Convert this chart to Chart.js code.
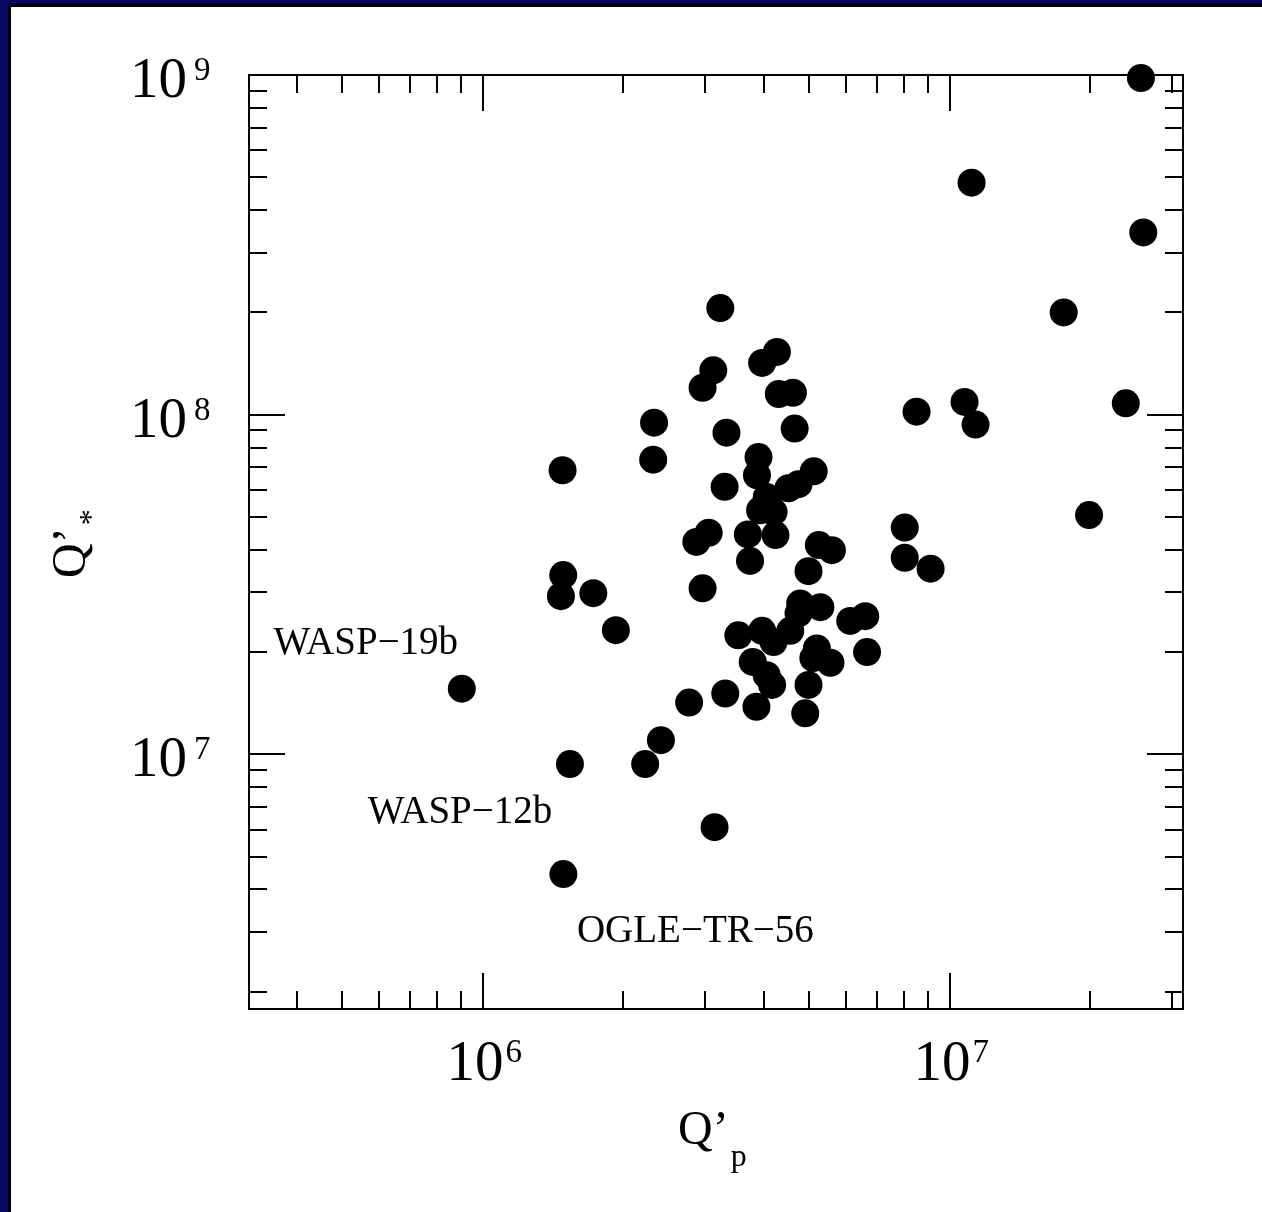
<!DOCTYPE html>
<html>
<head>
<meta charset="utf-8">
<script src="https://cdn.jsdelivr.net/npm/chart.js@4"></script>
<style>
  html, body { margin: 0; padding: 0; background: #fff; }
  canvas { display: block; }
</style>
</head>
<body>
<canvas id="qChart" width="1262" height="1212"></canvas>
<script>
// Q'p (planet) and Q'* (star) values
const qPlanet = [
  25.7e6, 11.15e6, 26.0e6, 17.56e6, 3.23e6, 4.27e6, 3.97e6, 3.12e6, 2.96e6, 4.31e6,
  4.62e6, 10.77e6, 8.50e6, 23.85e6, 11.37e6, 2.33e6, 3.33e6, 4.66e6, 2.32e6, 3.90e6,
  1.484e6, 3.87e6, 5.12e6, 4.75e6, 4.52e6, 3.30e6, 4.06e6, 3.93e6, 4.20e6, 19.9e6,
  8.02e6, 3.05e6, 2.87e6, 3.70e6, 4.24e6, 5.25e6, 5.60e6, 3.74e6, 8.02e6, 9.11e6,
  4.99e6, 1.489e6, 1.472e6, 1.727e6, 2.96e6, 4.79e6, 5.29e6, 4.75e6, 6.13e6, 6.60e6,
  1.93e6, 3.53e6, 3.97e6, 4.56e6, 4.20e6, 5.20e6, 5.11e6, 5.56e6, 6.66e6, 3.79e6,
  4.06e6, 4.17e6, 0.903e6, 4.99e6, 3.31e6, 2.77e6, 3.86e6, 4.91e6, 2.41e6, 1.539e6,
  2.23e6, 3.14e6, 1.49e6
];
const qStar = [
  9.8e8, 4.82e8, 3.44e8, 2.0e8, 2.06e8, 1.53e8, 1.42e8, 1.35e8, 1.20e8, 1.15e8,
  1.16e8, 1.09e8, 1.02e8, 1.08e8, 9.35e7, 9.47e7, 8.85e7, 9.10e7, 7.37e7, 7.50e7,
  6.86e7, 6.63e7, 6.81e7, 6.24e7, 6.07e7, 6.13e7, 5.72e7, 5.23e7, 5.17e7, 5.06e7,
  4.65e7, 4.49e7, 4.22e7, 4.44e7, 4.42e7, 4.13e7, 3.99e7, 3.71e7, 3.79e7, 3.52e7,
  3.46e7, 3.37e7, 2.92e7, 2.98e7, 3.08e7, 2.78e7, 2.71e7, 2.60e7, 2.47e7, 2.55e7,
  2.32e7, 2.24e7, 2.31e7, 2.31e7, 2.14e7, 2.05e7, 1.92e7, 1.86e7, 2.00e7, 1.87e7,
  1.71e7, 1.60e7, 1.56e7, 1.60e7, 1.51e7, 1.42e7, 1.38e7, 1.32e7, 1.10e7, 9.36e6,
  9.36e6, 6.10e6, 4.44e6
];

// axis ranges and ticks
const xMin = Math.pow(10, 5.5), xMax = Math.pow(10, 7.5);
const yMin = Math.pow(10, 6.25), yMax = 1e9;
const xMajor = [1e6, 1e7];
const xMinor = [4e5, 5e5, 6e5, 7e5, 8e5, 9e5, 2e6, 3e6, 4e6, 5e6, 6e6, 7e6, 8e6, 9e6, 2e7, 3e7];
const yMajor = [1e7, 1e8, 1e9];
const yMinor = [2e6, 3e6, 4e6, 5e6, 6e6, 7e6, 8e6, 9e6,
  2e7, 3e7, 4e7, 5e7, 6e7, 7e7, 8e7, 9e7, 2e8, 3e8, 4e8, 5e8, 6e8, 7e8, 8e8, 9e8];

// named planets, anchored at the left end of the text baseline
const nameText = ['WASP−19b', 'WASP−12b', 'OGLE−TR−56'];
const nameX = [3.57e5, 5.68e5, 1.593e6];
const nameY = [1.97e7, 6.28e6, 2.81e6];

const SERIF = '"Liberation Serif", "DejaVu Serif", serif';

const framePlugin = {
  id: 'frame',
  beforeDraw(chart) {
    const ctx = chart.ctx;
    ctx.save();
    ctx.fillStyle = '#08085e';
    ctx.fillRect(0, 0, chart.width, chart.height);
    ctx.fillStyle = '#000';
    ctx.fillRect(8, 3, chart.width, chart.height);
    ctx.fillStyle = '#fff';
    ctx.fillRect(11, 7, chart.width, chart.height);
    ctx.restore();
  },
  beforeDatasetsDraw(chart) {
    const ctx = chart.ctx;
    const a = chart.chartArea;
    const xs = chart.scales.x, ys = chart.scales.y;
    ctx.save();
    ctx.strokeStyle = '#000';
    ctx.lineWidth = 2;
    ctx.strokeRect(a.left, a.top, a.right - a.left, a.bottom - a.top);
    const tick = (x1, y1, x2, y2) => {
      ctx.beginPath();
      ctx.moveTo(x1, y1);
      ctx.lineTo(x2, y2);
      ctx.stroke();
    };
    const xTicks = (vals, len) => vals.forEach(v => {
      const px = Math.round(xs.getPixelForValue(v));
      tick(px, a.bottom, px, a.bottom - len);
      tick(px, a.top, px, a.top + len);
    });
    const yTicks = (vals, len) => vals.forEach(v => {
      const py = Math.round(ys.getPixelForValue(v));
      tick(a.left, py, a.left + len, py);
      tick(a.right, py, a.right - len, py);
    });
    xTicks(xMajor, 36);
    xTicks(xMinor, 18);
    yTicks(yMajor, 36);
    yTicks(yMinor, 18);
    ctx.restore();
  },
  afterDraw(chart) {
    const ctx = chart.ctx;
    const a = chart.chartArea;
    const xs = chart.scales.x, ys = chart.scales.y;
    ctx.save();
    ctx.fillStyle = '#000';
    ctx.textBaseline = 'alphabetic';

    // x tick labels 10^n
    xMajor.forEach(v => {
      const px = xs.getPixelForValue(v);
      ctx.font = '57px ' + SERIF;
      ctx.textAlign = 'right';
      ctx.fillText('10', px + 21, a.bottom + 71);
      ctx.font = '33px ' + SERIF;
      ctx.textAlign = 'left';
      ctx.fillText(String(Math.round(Math.log10(v))), px + 23, a.bottom + 53);
    });

    // y tick labels 10^n
    yMajor.forEach(v => {
      const py = ys.getPixelForValue(v);
      ctx.font = '57px ' + SERIF;
      ctx.textAlign = 'right';
      ctx.fillText('10', a.left - 62, py + 22);
      ctx.font = '33px ' + SERIF;
      ctx.textAlign = 'left';
      ctx.fillText(String(Math.round(Math.log10(v))), a.left - 55, py + 5);
    });

    // x title Q'p
    ctx.textAlign = 'left';
    ctx.font = '48px ' + SERIF;
    ctx.fillText('Q’', 678, 1144);
    const wq = ctx.measureText('Q’').width;
    ctx.font = '32px ' + SERIF;
    ctx.fillText('p', 678 + wq + 2, 1166);

    // y title Q'*
    ctx.save();
    ctx.translate(85, 578);
    ctx.rotate(-Math.PI / 2);
    ctx.font = '48px ' + SERIF;
    ctx.fillText('Q’', 0, 0);
    const wy = ctx.measureText('Q’').width;
    ctx.font = '32px ' + SERIF;
    ctx.fillText('*', wy + 2, 16);
    ctx.restore();

    // planet names
    ctx.font = '39px ' + SERIF;
    nameText.forEach((t, i) => {
      ctx.fillText(t, xs.getPixelForValue(nameX[i]), ys.getPixelForValue(nameY[i]));
    });
    ctx.restore();
  }
};

new Chart(document.getElementById('qChart').getContext('2d'), {
  type: 'scatter',
  data: {
    datasets: [{
      data: qPlanet.map((x, i) => ({ x: x, y: qStar[i] })),
      backgroundColor: '#000',
      borderWidth: 0,
      pointRadius: 14,
      pointHoverRadius: 14,
      clip: false
    }]
  },
  options: {
    responsive: false,
    devicePixelRatio: 1,
    animation: false,
    layout: { padding: { left: 249, top: 75, right: 79, bottom: 203 } },
    scales: {
      x: { type: 'logarithmic', min: xMin, max: xMax, display: false },
      y: { type: 'logarithmic', min: yMin, max: yMax, display: false }
    },
    plugins: {
      legend: { display: false },
      tooltip: { enabled: false }
    }
  },
  plugins: [framePlugin]
});
</script>
</body>
</html>
